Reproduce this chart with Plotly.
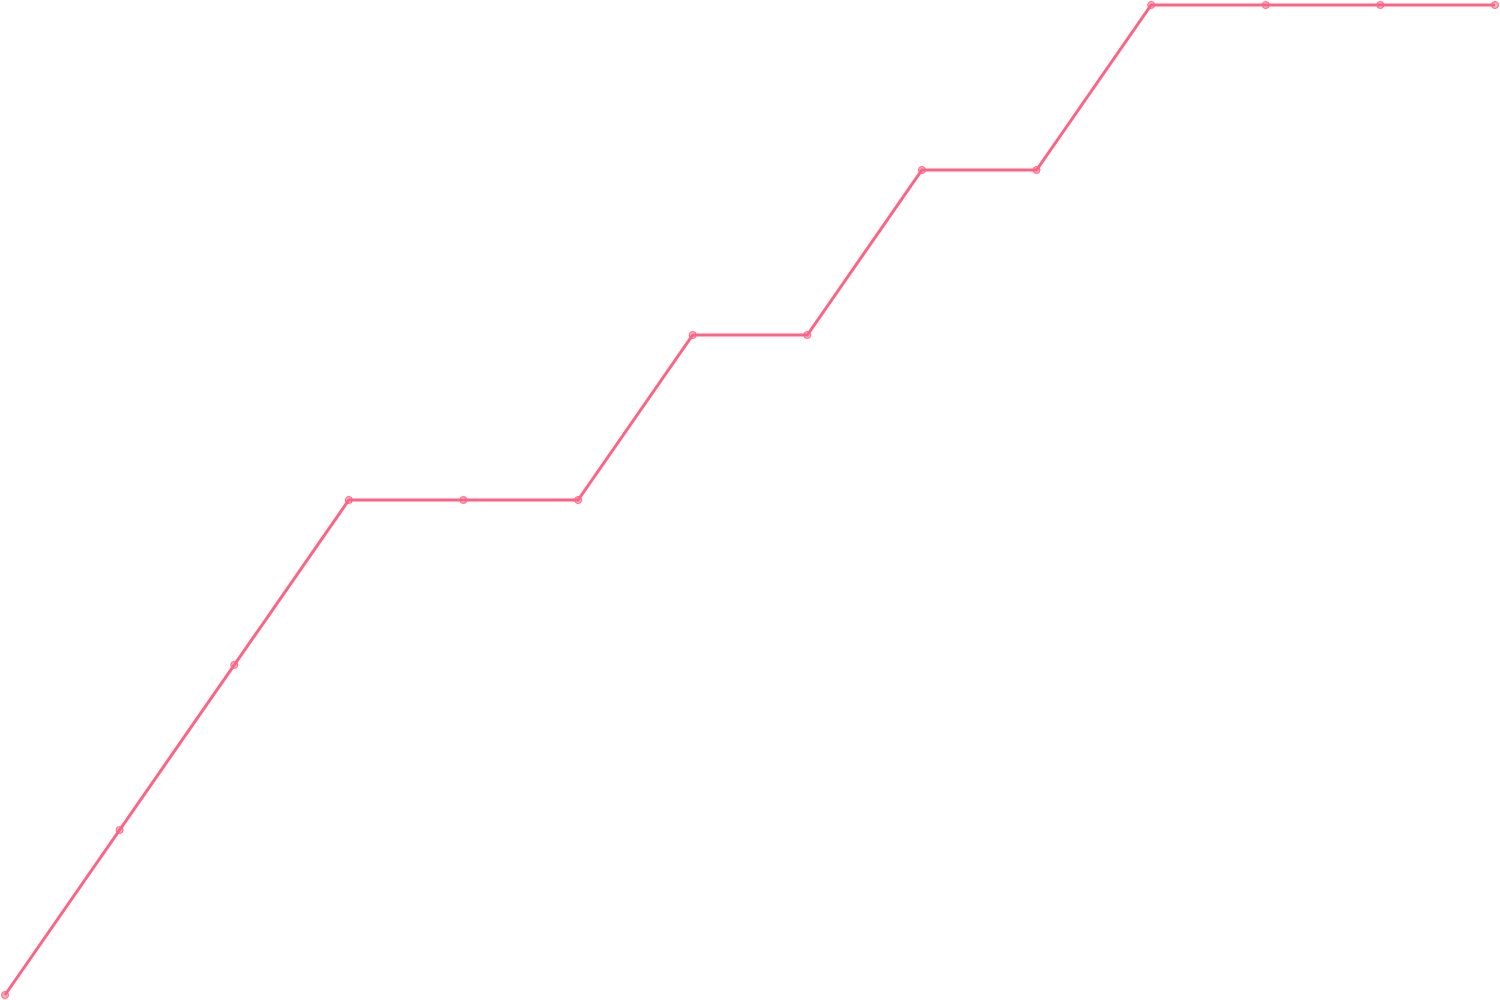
import plotly.graph_objects as go

# --- dữ liệu ---
steps = list(range(14))
levels = [0, 1, 2, 3, 3, 3, 4, 4, 5, 5, 6, 6, 6, 6]

line_color = "rgb(255, 99, 132)"
W, H, PAD = 1500, 1000, 5

fig = go.Figure(go.Scatter(
    x=steps,
    y=levels,
    mode="lines+markers",
    line=dict(color=line_color, width=3),
    marker=dict(size=7, color="rgba(255, 99, 132, 0.5)",
                line=dict(color=line_color, width=1)),
    cliponaxis=False,
    showlegend=False,
))

# chừa 5px quanh vùng vẽ bằng cách nới range (để đường không bị cắt ở mép)
x_span = max(steps) - min(steps)
y_span = max(levels) - min(levels)
x_pad = PAD * x_span / (W - 2 * PAD)
y_pad = PAD * y_span / (H - 2 * PAD)
fig.update_xaxes(visible=False, range=[min(steps) - x_pad, max(steps) + x_pad])
fig.update_yaxes(visible=False, range=[min(levels) - y_pad, max(levels) + y_pad])

fig.update_layout(
    width=W, height=H,
    margin=dict(l=0, r=0, t=0, b=0),
    paper_bgcolor="white",
    plot_bgcolor="white",
)

# bỏ lề mặc định của trang để biểu đồ nằm sát mép cửa sổ
config = {'displayModeBar': False, 'displaylogo': False}
fig.write_html("out.html", config=config,
               post_script="document.body.style.margin='0';")
